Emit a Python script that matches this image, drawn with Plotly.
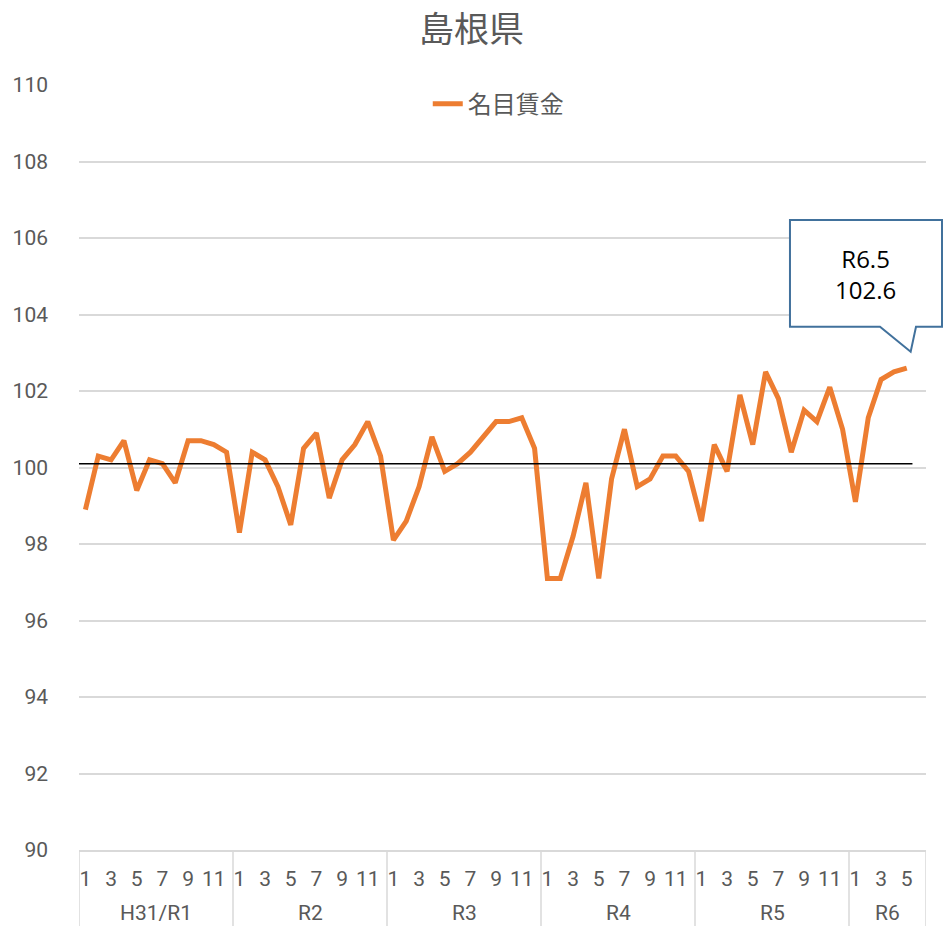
import plotly.graph_objects as go

# Data (monthly index, base = 100)
years = ["H31/R1", "R2", "R3", "R4", "R5", "R6"]
months_per_year = [12, 12, 12, 12, 12, 6]
wages = [
    98.9, 100.3, 100.2, 100.7, 99.4, 100.2, 100.1, 99.6, 100.7, 100.7, 100.6, 100.4,
    98.3, 100.4, 100.2, 99.5, 98.5, 100.5, 100.9, 99.2, 100.2, 100.6, 101.2, 100.3,
    98.1, 98.6, 99.5, 100.8, 99.9, 100.1, 100.4, 100.8, 101.2, 101.2, 101.3, 100.5,
    97.1, 97.1, 98.2, 99.6, 97.1, 99.7, 101.0, 99.5, 99.7, 100.3, 100.3, 99.9,
    98.6, 100.6, 99.9, 101.9, 100.6, 102.5, 101.8, 100.4, 101.5, 101.2, 102.1, 101.0,
    99.1, 101.3, 102.3, 102.5, 102.6,
]
reference_level = 100.1
series_name = "名目賃金"
title = "島根県"

# Category per month ("year-month"); only odd months get a tick label
categories, tick_vals, tick_text = [], [], []
for y, n in zip(years, months_per_year):
    for m in range(1, n + 1):
        key = f"{y}-{m}"
        categories.append(key)
        if m % 2 == 1:
            tick_vals.append(key)
            tick_text.append(str(m))
y_vals = wages + [None] * (len(categories) - len(wages))

GREY = "#595959"
GRID = "#d9d9d9"
ORANGE = "#ED7D31"
NARROW = "Roboto, sans-serif"
JP = "Noto Sans CJK JP, sans-serif"

fig = go.Figure()

fig.add_trace(
    go.Scatter(
        x=categories,
        y=y_vals,
        mode="lines",
        name=series_name,
        line=dict(color=ORANGE, width=5),
    )
)

# Black reference line just above 100
fig.add_shape(
    type="line",
    xref="paper",
    yref="y",
    x0=0,
    x1=0.984,
    y0=reference_level,
    y1=reference_level,
    line=dict(color="black", width=1.5),
)

# Year group labels and dividers below the month labels
start = 0
fig.add_shape(
    type="line", xref="x", yref="paper", x0=-0.5, x1=-0.5, y0=0, y1=-0.1,
    line=dict(color=GRID, width=1.5),
)
for y, n in zip(years, months_per_year):
    end = start + n - 0.5
    fig.add_shape(
        type="line", xref="x", yref="paper", x0=end, x1=end, y0=0, y1=-0.1,
        line=dict(color=GRID, width=1.5),
    )
    fig.add_annotation(
        xref="x",
        yref="paper",
        x=start + (n - 1) / 2,
        y=-0.0824,
        text=y,
        showarrow=False,
        xanchor="center",
        yanchor="middle",
        font=dict(family=NARROW, size=21, color=GREY),
    )
    start += n

# Callout bubble for the latest value
bx0, bx1, byt, byb = 0.8394, 1.0189, 0.8235, 0.684
fig.add_shape(
    type="path",
    xref="paper",
    yref="paper",
    path=(
        f"M{bx0},{byb} L{bx0},{byt} L{bx1},{byt} L{bx1},{byb} "
        f"L0.9882,{byb} L0.9819,0.6514 L0.9457,{byb} Z"
    ),
    fillcolor="white",
    line=dict(color="#41719C", width=2),
)
fig.add_annotation(
    xref="paper",
    yref="paper",
    x=0.929,
    y=0.753,
    text=f"R6.{len(wages) - 60}<br>{wages[-1]}",
    showarrow=False,
    font=dict(family="Open Sans, Liberation Sans, sans-serif", size=24, color="black"),
    xanchor="center",
    yanchor="middle",
)

fig.update_layout(
    width=943,
    height=926,
    margin=dict(l=79, r=17, t=85, b=76),
    paper_bgcolor="white",
    plot_bgcolor="white",
    title=dict(
        text=title,
        x=0.5,
        xanchor="center",
        y=0.968,
        yanchor="middle",
        font=dict(family=JP, size=35, color=GREY),
    ),
    showlegend=True,
    legend=dict(
        orientation="h",
        x=0.495,
        xanchor="center",
        y=0.975,
        yanchor="middle",
        bgcolor="rgba(0,0,0,0)",
        font=dict(family=JP, size=24, color=GREY),
    ),
    xaxis=dict(
        type="category",
        categoryorder="array",
        categoryarray=categories,
        range=[-0.5, len(categories) - 0.5],
        tickmode="array",
        tickvals=tick_vals,
        ticktext=tick_text,
        showgrid=False,
        showline=True,
        linecolor=GRID,
        linewidth=1.5,
        tickangle=0,
        ticklabelstandoff=9,
        tickfont=dict(family=NARROW, size=21, color=GREY),
        automargin=False,
    ),
    yaxis=dict(
        range=[90, 110],
        dtick=2,
        showgrid=True,
        gridcolor=GRID,
        gridwidth=1.5,
        zeroline=False,
        showline=False,
        tickfont=dict(family=NARROW, size=21, color=GREY),
        ticklabelstandoff=30,
        automargin=False,
    ),
)

# drop the default page margin so the figure sits at the window's top-left corner
fig.write_html(
    "out.html",
    config={"displayModeBar": False},
    post_script="document.body.style.margin='0';document.body.style.overflow='hidden';",
)
